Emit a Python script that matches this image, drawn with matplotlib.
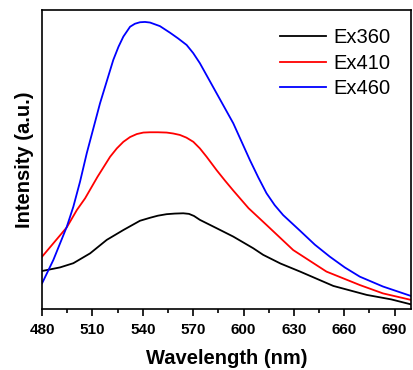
import numpy as np
import matplotlib.pyplot as plt

plt.rcParams['font.family'] = ['Liberation Sans', 'DejaVu Sans']

# emission spectra (normalised intensity, a.u.)
wl_360 = [480, 490.7, 498.6, 508.6, 518.5, 528.4, 538.3, 544.3, 549, 554.2, 559, 564.1, 567.5, 570.5,
          574.0, 584.0, 593.9, 605.8, 611.7, 622, 633.7, 653.5, 673.4, 688, 700]
ex360 = [0.127, 0.139, 0.153, 0.186, 0.231, 0.264, 0.295, 0.305, 0.312, 0.317, 0.319, 0.320, 0.318, 0.311,
         0.298, 0.270, 0.242, 0.203, 0.181, 0.152, 0.125, 0.077, 0.047, 0.032, 0.015]

wl_410 = [480, 488.7, 494.7, 500.7, 505.6, 513, 520.5, 524.5, 528.4, 532.4, 536.4, 540.3, 544.3, 549,
          554.2, 558, 562.1, 566, 570.1, 574, 578.0, 584.0, 589, 593.9, 603, 613.7, 629.6, 649.4, 669.3,
          683.1, 700]
ex410 = [0.175, 0.233, 0.273, 0.331, 0.370, 0.442, 0.509, 0.537, 0.559, 0.575, 0.585, 0.590, 0.591, 0.591,
         0.590, 0.587, 0.582, 0.573, 0.559, 0.537, 0.509, 0.464, 0.429, 0.396, 0.337, 0.281, 0.197, 0.125,
         0.080, 0.052, 0.030]

wl_460 = [480, 486.7, 494.7, 498.6, 502.6, 506.6, 514.5, 522.4, 525.5, 528.4, 532.4, 535.3, 538.3, 541.3,
          544.3, 550.2, 556.2, 561, 566.1, 570, 574.0, 584.0, 593.9, 603.8, 608.8, 613.7, 618.6, 623.6,
          633.6, 642.5, 651.4, 660.3, 669.3, 683.1, 700]
ex460 = [0.086, 0.164, 0.275, 0.342, 0.426, 0.521, 0.688, 0.833, 0.877, 0.911, 0.944, 0.954, 0.959, 0.960,
         0.958, 0.946, 0.924, 0.905, 0.883, 0.856, 0.822, 0.721, 0.621, 0.498, 0.440, 0.387, 0.347, 0.314,
         0.262, 0.215, 0.175, 0.139, 0.108, 0.075, 0.043]

xticks = [480, 510, 540, 570, 600, 630, 660, 690]

fig = plt.figure(figsize=(4.13, 3.70), dpi=100)
ax = fig.add_axes([0.102, 0.165, 0.894, 0.808])

ax.plot(wl_360, ex360, color='black', lw=1.3, label='Ex360')
ax.plot(wl_410, ex410, color='red', lw=1.3, label='Ex410')
ax.plot(wl_460, ex460, color='blue', lw=1.3, label='Ex460')

ax.set_xlim(480, 700)
ax.set_ylim(0, 1)
ax.set_xticks(xticks)
ax.set_xticks(np.arange(495, 700, 30), minor=True)
ax.set_yticks([])
ax.tick_params(axis='x', which='major', direction='out', length=5, width=1.2, labelsize=11, pad=5)
ax.tick_params(axis='x', which='minor', direction='out', length=3, width=1.2)
for lab in ax.get_xticklabels():
    lab.set_fontweight('bold')
for s in ax.spines.values():
    s.set_linewidth(1.2)

ax.set_xlabel('Wavelength (nm)', fontsize=14.5, fontweight='bold', labelpad=9)
ax.set_ylabel('Intensity (a.u.)', fontsize=14.5, fontweight='bold', labelpad=6)

ax.legend(loc='upper right', frameon=False, fontsize=14.5, handlelength=2.3,
          handletextpad=0.35, labelspacing=0.33, bbox_to_anchor=(0.992, 1.0))

fig.savefig('out.png', dpi=100)
